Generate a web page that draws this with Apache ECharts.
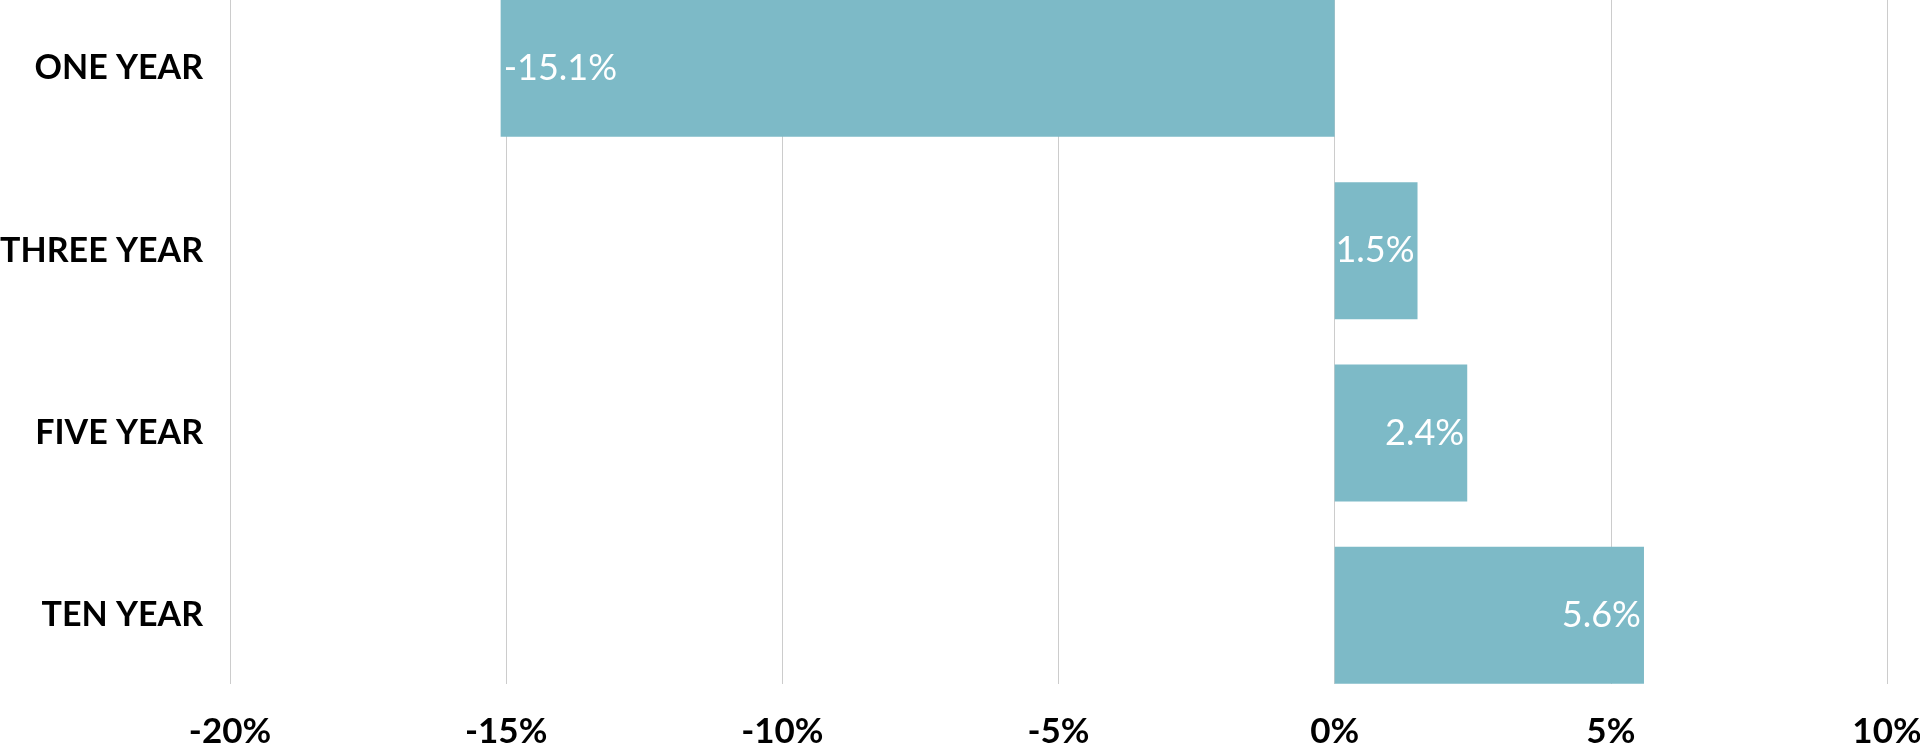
<!DOCTYPE html>
<html>
<head>
<meta charset="utf-8">
<script src="https://cdn.jsdelivr.net/npm/echarts@6/dist/echarts.min.js"></script>
<style>
html,body{margin:0;padding:0;background:#fff;}
#chart{width:1920px;height:755px;}
</style>
</head>
<body>
<div id="chart"></div>
<script>
const categories = ['ONE YEAR', 'THREE YEAR', 'FIVE YEAR', 'TEN YEAR'];
const values = [-15.1, 1.5, 2.4, 5.6];
const xTicks = [-20, -15, -10, -5, 0, 5, 10];

const chart = echarts.init(document.getElementById('chart'), null, {renderer: 'canvas'});
const X_MIN = xTicks[0], X_MAX = xTicks[xTicks.length - 1];
chart.setOption({
  animation: false,
  backgroundColor: '#ffffff',
  grid: [
    // bars grid (bands extend slightly beyond visible plot area)
    {left: 230, right: 33, top: -22.8, height: 729.2, containLabel: false, outerBoundsMode: 'none'},
    // gridline / tick-label grid
    {left: 230, right: 33, top: 0, bottom: 71, containLabel: false, outerBoundsMode: 'none'}
  ],
  xAxis: [
    {
      gridIndex: 0, type: 'value', min: X_MIN, max: X_MAX, interval: 5,
      axisLine: {show: false}, axisTick: {show: false},
      splitLine: {show: false}, axisLabel: {show: false}
    },
    {
      gridIndex: 1, type: 'value', min: X_MIN, max: X_MAX, interval: 5,
      axisLine: {show: false}, axisTick: {show: false},
      splitLine: {show: true, lineStyle: {color: '#cccccc', width: 1}},
      axisLabel: {
        margin: 30,
        color: '#000000',
        fontFamily: 'Lato',
        fontWeight: 'bold',
        fontSize: 35,
        formatter: v => v + '%'
      }
    }
  ],
  yAxis: [
    {
      gridIndex: 0, type: 'category', data: categories, inverse: true,
      axisLine: {show: false}, axisTick: {show: false}, splitLine: {show: false},
      axisLabel: {
        margin: 27,
        padding: [9, 0, 0, 0],
        color: '#000000',
        fontFamily: 'Lato',
        fontWeight: 'bold',
        fontSize: 34
      }
    },
    {
      gridIndex: 1, type: 'value', min: 0, max: 1, show: false
    }
  ],
  series: [{
    type: 'bar',
    xAxisIndex: 0,
    yAxisIndex: 0,
    barWidth: 137,
    data: values.map(v => ({
      value: v,
      label: {position: v < 0 ? 'insideLeft' : 'insideRight'}
    })),
    itemStyle: {color: '#7dbac7'},
    label: {
      show: true,
      distance: 3,
      color: '#ffffff',
      fontFamily: 'Lato',
      fontSize: 36,
      formatter: p => p.value.toFixed(1) + '%'
    }
  }]
});
</script>
</body>
</html>
